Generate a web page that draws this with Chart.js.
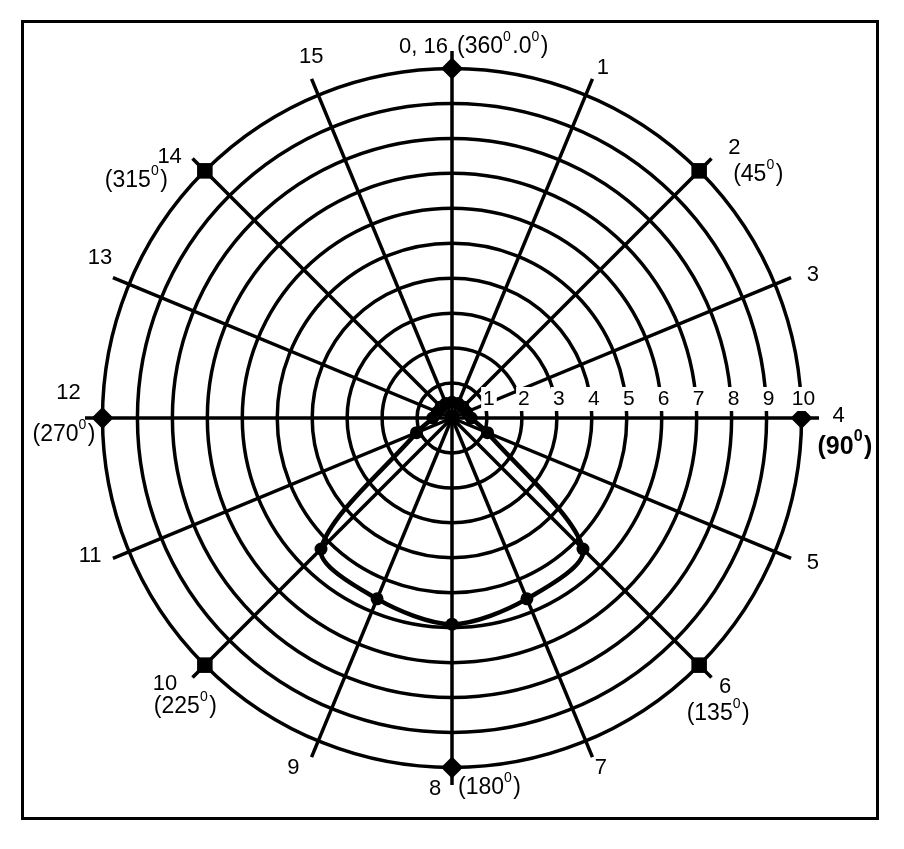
<!DOCTYPE html>
<html>
<head>
<meta charset="utf-8">
<script src="https://cdn.jsdelivr.net/npm/chart.js@4.4.1/dist/chart.umd.min.js"></script>
<style>
  body { margin: 0; background: #fff; }
  #wrap { position: relative; width: 904px; height: 849px; }
  #frame { position: absolute; left: 21px; top: 20px; width: 858px; height: 800px; box-sizing: border-box; border: 3px solid #000; pointer-events: none; }
  canvas { position: absolute; left: 0; top: 0; }
</style>
</head>
<body>
<div id="wrap">
  <canvas id="polar" width="904" height="849"></canvas>
  <div id="frame"></div>
</div>
<script>
// spoke numbers, clockwise from the top
const spokes = ['0, 16', '1', '2', '3', '4', '5', '6', '7', '8', '9', '10', '11', '12', '13', '14', '15'];
const spokeDegrees = ['(360°.0°)', '', '(45°)', '', '(90°)', '', '(135°)', '', '(180°)', '', '(225°)', '', '(270°)', '', '(315°)', ''];
const ringTicks = [1, 2, 3, 4, 5, 6, 7, 8, 9, 10];
// the plotted pattern (one value per spoke)
const pattern = [0.45, 0.45, 0.45, 0.45, 0.55, 1.1, 5.3, 5.6, 5.9, 5.6, 5.3, 1.1, 0.55, 0.45, 0.45, 0.45];
// markers on the outer ring, every other spoke
const outerMarks = [10, null, 10, null, 10, null, 10, null, 10, null, 10, null, 10, null, 10, null];

const FONT = '"Liberation Sans", Arial, sans-serif';

// where each label sits next to its spoke end (offset from the ring-10 point)
const labelSpots = [
  { name: [-4, -22, 'right'], deg: [5, -22, 'left'] },
  { name: [17, -27, 'center'] },
  { name: [29, -23, 'left'], deg: [34, 4, 'left'] },
  { name: [38, -9, 'center'] },
  { name: [31, -2, 'left'], deg: [16, 29, 'left'], bold: true },
  { name: [38, 11, 'center'] },
  { name: [26, 22, 'center'], deg: [19, 49, 'center'] },
  { name: [15, 27, 'center'] },
  { name: [-17, 21, 'center'], deg: [6, 20, 'left'] },
  { name: [-25, 27, 'center'] },
  { name: [-52, 19, 'left'], deg: [-51, 42, 'left'] },
  { name: [-39, 4, 'center'] },
  { name: [-34, -25, 'center'], deg: [-7, 17, 'right'] },
  { name: [-29, -26, 'center'] },
  { name: [-23, -14, 'right'], deg: [-37, 10, 'right'] },
  { name: [-7, -38, 'center'] }
];

// text with the degree sign written as a raised small 0
function drawRich(ctx, text, x, y, align, size, weight) {
  const parts = text.split('°');
  const big = weight + ' ' + size + 'px ' + FONT;
  const small = weight + ' ' + Math.round(size * 0.62) + 'px ' + FONT;
  ctx.font = big;
  const wb = parts.map(p => ctx.measureText(p).width);
  ctx.font = small;
  const ws = ctx.measureText('0').width + 1.5;
  const w = wb.reduce((a, b) => a + b, 0) + ws * (parts.length - 1);
  let cx = align === 'left' ? x : align === 'right' ? x - w : x - w / 2;
  ctx.textAlign = 'left';
  ctx.textBaseline = 'middle';
  parts.forEach((p, i) => {
    ctx.font = big;
    ctx.fillText(p, cx, y);
    cx += wb[i];
    if (i < parts.length - 1) {
      ctx.font = small;
      ctx.fillText('0', cx, y - size * 0.42);
      cx += ws;
    }
  });
  return w;
}

const labelsPlugin = {
  id: 'polarLabels',
  afterDraw(chart) {
    const ctx = chart.ctx;
    const scale = chart.scales.r;
    const r10 = scale.getDistanceFromCenterForValue(10);
    ctx.save();
    ctx.fillStyle = '#000';

    // ring numbers along the 90 degree spoke, on a white patch
    ringTicks.forEach(v => {
      const p = scale.getPointPosition(4, scale.getDistanceFromCenterForValue(v));
      const x = p.x + 2, y = p.y - 19;
      ctx.font = '21px ' + FONT;
      const w = ctx.measureText(String(v)).width;
      ctx.fillStyle = '#fff';
      ctx.fillRect(x - w / 2 - 2, y - 12, w + 4, 24);
      ctx.fillStyle = '#000';
      drawRich(ctx, String(v), x, y, 'center', 21, 'normal');
    });

    // spoke names and angles
    spokes.forEach((name, i) => {
      const p = scale.getPointPosition(i, r10);
      const spot = labelSpots[i];
      drawRich(ctx, name, p.x + spot.name[0], p.y + spot.name[1], spot.name[2], 22, 'normal');
      if (spokeDegrees[i] && spot.deg) {
        drawRich(ctx, spokeDegrees[i], p.x + spot.deg[0], p.y + spot.deg[1], spot.deg[2],
          spot.bold ? 25 : 23, spot.bold ? 'bold' : 'normal');
      }
    });
    ctx.restore();
  }
};

new Chart(document.getElementById('polar'), {
  type: 'radar',
  data: {
    labels: spokes,
    datasets: [
      {
        data: pattern,
        borderColor: '#000',
        borderWidth: 4.5,
        backgroundColor: '#000',
        fill: false,
        tension: 0.3,
        pointRadius: 6.5,
        pointBackgroundColor: '#000',
        pointBorderWidth: 0
      },
      {
        data: outerMarks,
        showLine: false,
        pointStyle: 'rectRot',
        pointRadius: 11,
        pointRotation: ctx => ctx.dataIndex * 22.5,
        pointBackgroundColor: '#000',
        pointBorderWidth: 0
      }
    ]
  },
  options: {
    responsive: false,
    animation: false,
    layout: { padding: { left: 85, right: 85, top: 51, bottom: 63 } },
    plugins: { legend: { display: false }, tooltip: { enabled: false } },
    scales: {
      r: {
        min: 0,
        max: 10.5,
        ticks: { display: false, stepSize: 1, includeBounds: false },
        grid: { circular: true, color: '#000', lineWidth: 3.5 },
        angleLines: { color: '#000', lineWidth: 3.5 },
        pointLabels: { display: false }
      }
    }
  },
  plugins: [labelsPlugin]
});
</script>
</body>
</html>
